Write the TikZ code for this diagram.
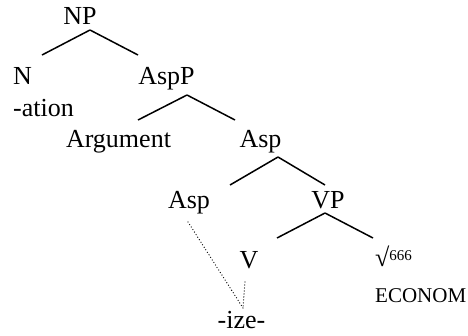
\documentclass[tikz,border=0pt]{standalone}
\usepackage{fontspec}
\setmainfont{Liberation Serif}
\usetikzlibrary{calc}

\tikzset{
  cat/.style={inner sep=0pt, anchor=base, font=\fontsize{26}{30}\selectfont},
  branch/.style={line width=1.5pt},
  link/.style={line width=1.3pt, line cap=round, dash pattern=on 0pt off 3pt}
}

\begin{document}
\begin{tikzpicture}[x=1pt, y=-1pt]
  \useasboundingbox (0,0) rectangle (468,335);
  % labels
  \node[cat] (np) at (80,24) {NP};
  \node[cat, anchor=base west] (n) at (13,84) {N};
  \node[cat, anchor=base west] (ation) at (13,116) {-ation};
  \node[cat] (aspp) at (166.5,84) {AspP};
  \node[cat] (arg) at (118.5,147) {Argument};
  \node[cat] (asp) at (260.5,147) {Asp};
  \node[cat] (asplow) at (189,208) {Asp};
  \node[cat] (vp) at (328,208) {VP};
  \node[cat] (v) at (249,268) {V};
  \node[cat, anchor=base west] (root) at (375,266)
    {√\raisebox{6pt}{\fontsize{15}{15}\selectfont 666}};
  \node[cat, anchor=base west, font=\fontsize{21}{24}\selectfont] (econ) at (375,302) {ECONOM};
  \node[cat] (ize) at (241.5,328) {-ize-};
  % branches
  \draw[branch] ($(np.base)+(10,6)$) -- ($(n.base west)+(29,-29)$);
  \draw[branch] ($(np.base)+(10,6)$) -- ($(aspp.base)+(-28.5,-29)$);
  \draw[branch] ($(aspp.base)+(20.5,11)$) -- ($(arg.base)+(19.5,-27)$);
  \draw[branch] ($(aspp.base)+(20.5,11)$) -- ($(asp.base)+(-25.5,-27)$);
  \draw[branch] ($(asp.base)+(17.5,10)$) -- ($(asplow.base)+(41,-23)$);
  \draw[branch] ($(asp.base)+(17.5,10)$) -- ($(vp.base)+(-3,-23)$);
  \draw[branch] ($(vp.base)+(-3,5)$) -- ($(v.base)+(28,-30)$);
  \draw[branch] ($(vp.base)+(-3,5)$) -- ($(root.base west)+(-2,-28)$);
  % head movement
  \draw[link] ($(asplow.base)+(-1,14)$) -- ($(ize.base)+(1.5,-20)$);
  \draw[link] ($(v.base)+(-4,14)$) -- ($(ize.base)+(1.5,-20)$);
\end{tikzpicture}
\end{document}
